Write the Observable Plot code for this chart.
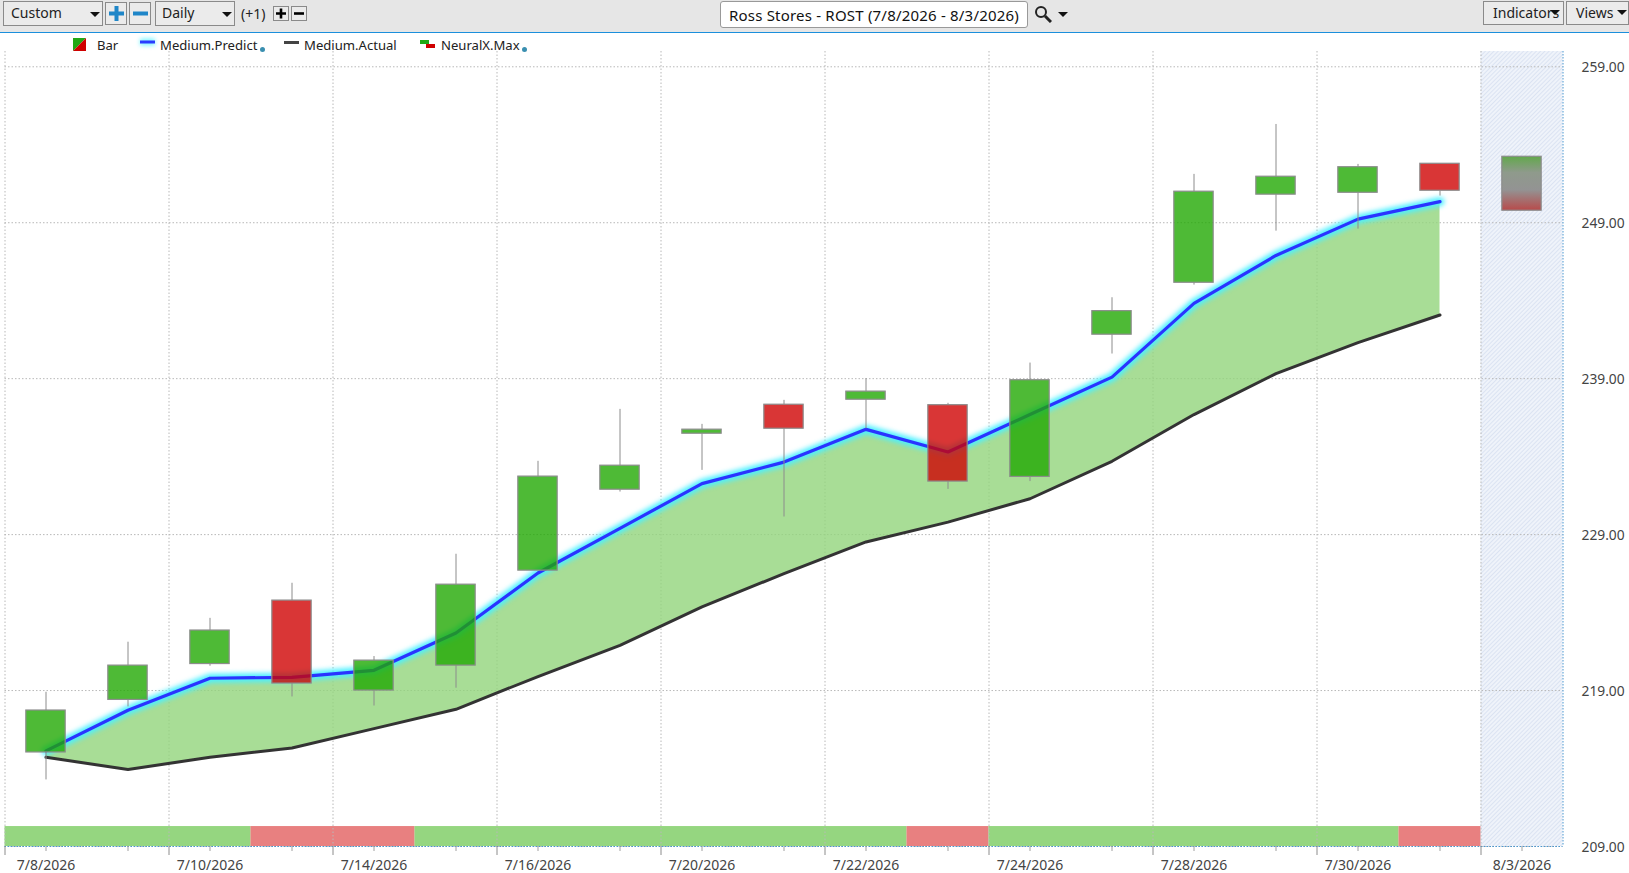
<!DOCTYPE html>
<html><head><meta charset="utf-8">
<script src="https://cdn.jsdelivr.net/npm/d3@7"></script>
<script src="https://cdn.jsdelivr.net/npm/@observablehq/plot@0.6"></script>
<style>
html,body{margin:0;padding:0;background:#fff;overflow:hidden}
#page{position:relative;width:1629px;height:873px;font-family:"Noto Sans",sans-serif;color:#222}
#bar{position:absolute;left:0;top:0;width:1629px;height:32px;background:#e6e6e6;border-bottom:1.5px solid #1b8fdc}
.b{position:absolute;box-sizing:border-box;border:1px solid #8a8a8a;background:#ebebeb;font-size:14px;line-height:22px;white-space:nowrap}
.car{position:absolute;width:0;height:0;border-left:5px solid transparent;border-right:5px solid transparent;border-top:5px solid #111}
.t{position:absolute;font-size:13.1px;line-height:18px;white-space:nowrap}
.k{position:absolute}
.dot{position:absolute;width:5px;height:5px;border-radius:50%;background:#3a8fb0}
#chart{position:absolute;left:0;top:51px}
</style></head><body>
<div id="page">
  <div id="bar">
    <div class="b" style="left:3px;top:1px;width:100px;height:25px;padding-left:7px">Custom<i class="car" style="left:86px;top:10px"></i></div>
    <div class="b" style="left:105px;top:2px;width:22px;height:23px"><svg class="k" style="left:3px;top:3px" width="15" height="15"><path d="M0 7.5H15M7.5 0V15" stroke="#1f86c8" stroke-width="4"/></svg></div>
    <div class="b" style="left:129px;top:2px;width:22px;height:23px"><svg class="k" style="left:3px;top:3px" width="15" height="15"><path d="M0 7.5H15" stroke="#1f86c8" stroke-width="4"/></svg></div>
    <div class="b" style="left:155px;top:1px;width:80px;height:25px;padding-left:6px">Daily<i class="car" style="left:66px;top:10px"></i></div>
    <div class="t" style="left:241px;top:5px;font-size:14px">(+1)</div>
    <div class="b" style="left:273px;top:6px;width:16px;height:15px"><svg class="k" style="left:2px;top:1px" width="10" height="11"><path d="M0 5.5H10M5 0.5V10.5" stroke="#000" stroke-width="2.6"/></svg></div>
    <div class="b" style="left:291px;top:6px;width:16px;height:15px"><svg class="k" style="left:2px;top:1px" width="10" height="11"><path d="M0 5.5H10" stroke="#000" stroke-width="2.6"/></svg></div>
    <div class="b" style="left:720px;top:1px;width:308px;height:27px;background:#fff;border-radius:3px;border-color:#999;font-size:15px;line-height:27px;padding-left:8px;letter-spacing:.2px;color:#111">Ross Stores - ROST (7/8/2026 - 8/3/2026)</div>
    <svg class="k" style="left:1034px;top:5px" width="18" height="18"><circle cx="7" cy="7" r="5" fill="none" stroke="#222" stroke-width="2"/><line x1="11" y1="11" x2="17" y2="17" stroke="#222" stroke-width="3"/></svg>
    <i class="car" style="left:1058px;top:12px"></i>
    <div class="b" style="left:1483px;top:1px;width:81px;height:24px;padding-left:9px">Indicators<i class="car" style="left:66px;top:8px"></i></div>
    <div class="b" style="left:1566px;top:1px;width:63px;height:24px;padding-left:9px">Views<i class="car" style="left:50px;top:8px"></i></div>
  </div>
  <svg class="k" style="left:73px;top:38px" width="13" height="13"><polygon points="0,0 13,0 0,13" fill="#22a815"/><polygon points="13,0 13,13 0,13" fill="#d00000"/></svg>
  <div class="t" style="left:97px;top:36px">Bar</div>
  <svg class="k" style="left:135px;top:34px" width="25" height="18"><line x1="5" y1="8" x2="20" y2="8" stroke="#7ff5ff" stroke-width="7" style="filter:blur(2px)"/><line x1="5" y1="8" x2="20" y2="8" stroke="#2a3cff" stroke-width="3"/></svg>
  <div class="t" style="left:160px;top:36px">Medium.Predict</div><i class="dot" style="left:260px;top:47px"></i>
  <svg class="k" style="left:284px;top:41px" width="15" height="4"><rect width="15" height="3" fill="#444"/></svg>
  <div class="t" style="left:304px;top:36px">Medium.Actual</div>
  <svg class="k" style="left:420px;top:40px" width="16" height="9"><rect width="9" height="4" fill="#22a815"/><rect x="6" y="4" width="9" height="4" fill="#d00000"/></svg>
  <div class="t" style="left:441px;top:36px">NeuralX.Max</div><i class="dot" style="left:522px;top:47px"></i>
  <div id="chart"></div>
</div>
<script>
const labelDays = [0,2,4,6,8,10,12,14,16,18];
const labelText = ["7/8/2026","7/10/2026","7/14/2026","7/16/2026","7/20/2026","7/22/2026","7/24/2026","7/28/2026","7/30/2026","8/3/2026"];
const opens  = [215.03,218.40,220.70,224.77,219.00,220.60,226.69,231.88,235.47,237.33,237.65,237.30,232.70,241.82,245.15,250.80,250.92,252.78];
const closes = [217.72,220.60,222.85,219.45,220.92,225.79,232.72,233.42,235.73,235.79,238.17,232.40,238.90,243.33,250.99,251.95,252.56,251.05];
const highs  = [218.89,222.10,223.63,225.88,221.18,227.74,233.70,237.03,236.07,237.61,239.00,237.42,240.00,244.19,252.10,255.30,252.74,252.78];
const lows   = [213.27,217.95,220.56,218.59,218.01,219.15,226.69,231.73,233.12,230.13,235.79,231.90,232.40,240.58,245.00,248.46,248.59,250.71];
const predict= [215.13,217.74,219.79,219.85,220.30,222.69,226.54,229.40,232.27,233.65,235.75,234.30,236.70,239.10,243.83,246.90,249.23,250.35];
const actual = [214.72,213.94,214.72,215.32,216.56,217.80,219.90,221.90,224.36,226.50,228.53,229.80,231.30,233.70,236.70,239.32,241.31,243.08];
const futureDay = 18, futureTop = 253.23, futureBottom = 249.77;
const signalStart = [-0.5,2.5,4.5,10.5,11.5,16.5];
const signalEnd   = [2.5,4.5,10.5,11.5,16.5,17.5];
const signalKind  = ["up","down","up","down","up","down"];
const priceTicks = [209,219,229,239,249,259];
const gridDays = [-0.5,1.5,3.5,5.5,7.5,9.5,11.5,13.5,15.5,17.5];

const days = d3.range(opens.length);
const bodyHalf = 0.24;
const defs = () => {
  const d = d3.create("svg:defs");
  const p = d.append("pattern").attr("id","hatch").attr("width",3).attr("height",3)
    .attr("patternUnits","userSpaceOnUse").attr("patternTransform","rotate(-45)");
  p.append("rect").attr("width",3).attr("height",3).attr("fill","#eff3fa");
  p.append("line").attr("x1",0).attr("x2",3).attr("y1",0.5).attr("y2",0.5).attr("stroke","#dbe3f2").attr("stroke-width",1);
  const g = d.append("linearGradient").attr("id","fut").attr("x1",0).attr("x2",0).attr("y1",0).attr("y2",1);
  [[0,"#62a84c"],[0.3,"#8f9a8c"],[0.62,"#939393"],[1,"#b84a4a"]].forEach(([o,c]) =>
    g.append("stop").attr("offset",o).attr("stop-color",c));
  return d.node();
};
const gridStyle = {stroke:"#b8b8b8", strokeDasharray:"1.5,2", strokeWidth:1};
const chart = Plot.plot({
  width:1629, height:822,
  marginLeft:4.5, marginRight:66.5, marginTop:0, marginBottom:27,
  style:{background:"transparent", fontFamily:"'Noto Sans',sans-serif", overflow:"visible"},
  x:{type:"linear", domain:[-0.5,18.5]},
  y:{type:"linear", domain:[209,259.98]},
  marks:[
    defs,
    Plot.rect([0],{x1:17.5,x2:18.5,y1:209,y2:259.98,fill:"url(#hatch)"}),
    Plot.rect(signalStart,{x1:(d)=>d,x2:(d,i)=>signalEnd[i],y1:209,y2:210.28,
      fill:(d,i)=>signalKind[i]==="up"?"#7bcc60":"#e26060",fillOpacity:0.8}),
    Plot.ruleY(priceTicks,gridStyle),
    Plot.ruleX(gridDays,gridStyle),
    Plot.ruleX([18.5],{stroke:"#4a97d0",strokeDasharray:"1.5,1.5"}),
    Plot.ruleY([209],{x1:-0.5,x2:18.5,stroke:"#4a97d0",strokeDasharray:"1.5,1.5"}),
    Plot.areaY(days,{x:d=>d,y1:d=>actual[d],y2:d=>predict[d],fill:"#92d47c",fillOpacity:0.8}),
    Plot.line(days,{x:d=>d,y:d=>predict[d],stroke:"#4cf0ff",strokeWidth:9,imageFilter:"blur(2.5px)"}),
    Plot.line(days,{x:d=>d,y:d=>actual[d],stroke:"#333333",strokeWidth:3}),
    Plot.line(days,{x:d=>d,y:d=>predict[d],stroke:"#2a34ff",strokeWidth:3.2,strokeLinecap:"round"}),
    Plot.ruleX(days,{x:d=>d,y1:d=>lows[d],y2:d=>Math.min(opens[d],closes[d]),stroke:"#8c8c8c",strokeWidth:1}),
    Plot.ruleX(days,{x:d=>d,y1:d=>Math.max(opens[d],closes[d]),y2:d=>highs[d],stroke:"#8c8c8c",strokeWidth:1}),
    Plot.rect(days,{x1:d=>d-bodyHalf,x2:d=>d+bodyHalf,y1:d=>opens[d],y2:d=>closes[d],
      fill:d=>closes[d]>=opens[d]?"#1fa800":"#cf0000",fillOpacity:0.79}),
    Plot.rect(days,{x1:d=>d-bodyHalf,x2:d=>d+bodyHalf,y1:d=>opens[d],y2:d=>closes[d],
      fill:"none",stroke:"#8c8c8c",strokeWidth:1.2}),
    Plot.rect([futureDay],{x1:d=>d-bodyHalf,x2:d=>d+bodyHalf,y1:futureBottom,y2:futureTop,
      fill:"url(#fut)",stroke:"#8c8c8c",strokeWidth:1.2}),
    Plot.axisX({ticks:gridDays,tickSize:9,tickFormat:()=>"",stroke:"#8c8c8c",label:null}),
    Plot.axisX({ticks:d3.range(19),tickSize:5,tickFormat:()=>"",stroke:"#a0a0a0",label:null}),
    Plot.axisX({ticks:labelDays,tickSize:0,tickPadding:14,tickFormat:(d)=>labelText[labelDays.indexOf(d)],
      fontSize:14,fill:"#444",label:null}),
    Plot.axisY({anchor:"right",ticks:priceTicks,tickSize:0,tickPadding:18.5,tickFormat:d=>d.toFixed(2),
      fontSize:13.8,fill:"#444",label:null,textAnchor:"start",dy:1})
  ]
});
document.getElementById("chart").appendChild(chart);
</script>
</body></html>
